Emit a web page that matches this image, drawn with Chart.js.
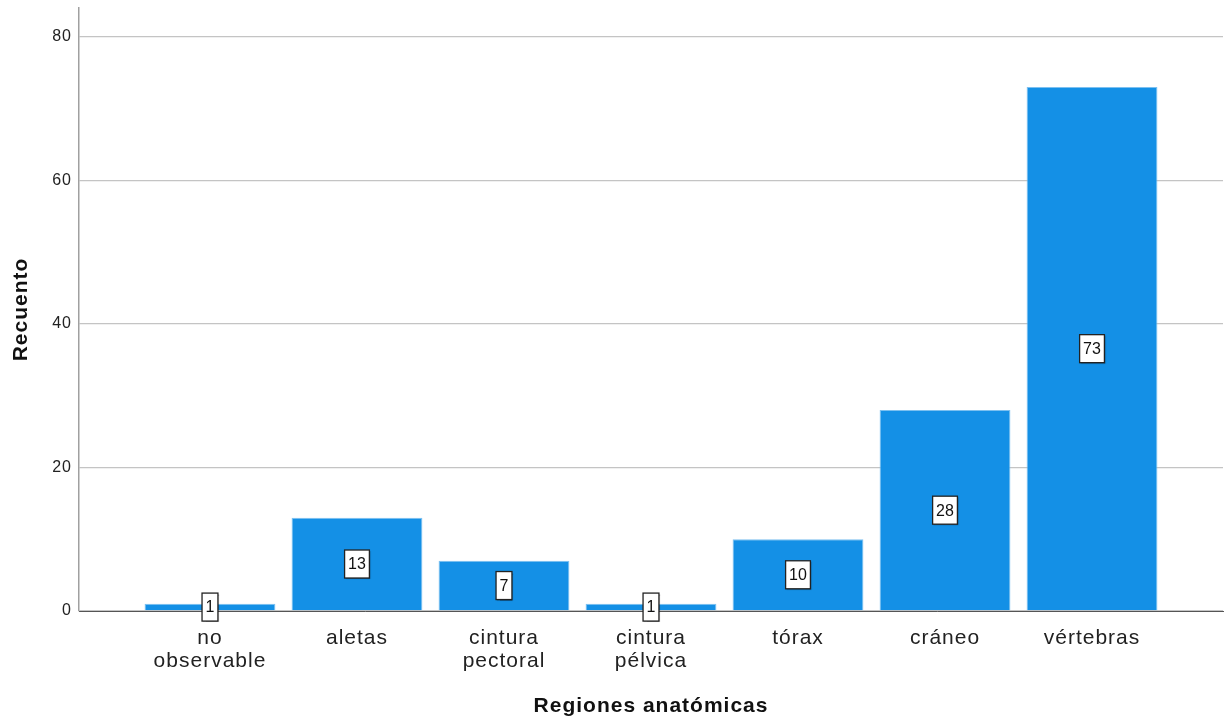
<!DOCTYPE html>
<html>
<head>
<meta charset="utf-8">
<script src="https://cdn.jsdelivr.net/npm/chart.js@4"></script>
<style>
    html, body { margin: 0; padding: 0; background: #fff; }
    #wrap { width: 1224px; height: 719px; }
</style>
</head>
<body>
<div id="wrap"><canvas id="grafica" width="1224" height="719"></canvas></div>
<script>
// Datos del gráfico
const categorias = [['no', 'observable'], 'aletas', ['cintura', 'pectoral'], ['cintura', 'pélvica'], 'tórax', 'cráneo', 'vértebras'];
const recuentos = [1, 13, 7, 1, 10, 28, 73];
const ticksY = [0, 20, 40, 60, 80];

const fuente = "'Liberation Sans', Arial, sans-serif";

// Espaciado de letras parecido al original
const espaciado = {
    id: 'espaciado',
    beforeInit(chart) { chart.ctx.letterSpacing = '1px'; },
    beforeDraw(chart) { chart.ctx.letterSpacing = '1px'; }
};

// Etiquetas blancas con borde en el centro de cada barra
const etiquetas = {
    id: 'etiquetas',
    afterDatasetsDraw(chart) {
        const ctx = chart.ctx;
        const meta = chart.getDatasetMeta(0);
        ctx.save();
        ctx.letterSpacing = '0px';
        ctx.font = '16px ' + fuente;
        ctx.textAlign = 'center';
        ctx.textBaseline = 'middle';
        meta.data.forEach((bar, i) => {
            const texto = String(recuentos[i]);
            const w = ctx.measureText(texto).width + 7;
            const h = 28;
            const cx = bar.x;
            const cy = (bar.y + bar.base) / 2;
            ctx.shadowColor = 'rgba(0,0,0,0.35)';
            ctx.shadowOffsetX = 1;
            ctx.shadowOffsetY = 1;
            ctx.shadowBlur = 1;
            ctx.fillStyle = '#fff';
            ctx.fillRect(cx - w / 2, cy - h / 2, w, h);
            ctx.shadowColor = 'transparent';
            ctx.strokeStyle = '#222';
            ctx.lineWidth = 1.3;
            ctx.strokeRect(cx - w / 2, cy - h / 2, w, h);
            ctx.fillStyle = '#111';
            ctx.fillText(texto, cx, cy + 1);
        });
        ctx.restore();
    }
};

const ctx = document.getElementById('grafica').getContext('2d');
new Chart(ctx, {
    type: 'bar',
    data: {
        datasets: [{
            data: recuentos.map((v, i) => ({ x: i, y: v })),
            backgroundColor: '#1490e6',
            borderColor: '#7cc0f0',
            borderWidth: 1,
            categoryPercentage: 1,
            barPercentage: 0.89
        }]
    },
    options: {
        responsive: false,
        animation: false,
        layout: { padding: { top: 8, right: 1, bottom: 0, left: 0 } },
        plugins: {
            legend: { display: false },
            tooltip: { enabled: false }
        },
        scales: {
            x: {
                type: 'linear',
                offset: false,
                min: -0.891,
                max: 6.891,
                afterBuildTicks: (scale) => {
                    scale.ticks = categorias.map((c, i) => ({ value: i }));
                },
                afterFit: (scale) => {
                    scale.height = 108;
                    scale.paddingLeft = 0;
                    scale.paddingRight = 0;
                },
                grid: { display: false, drawTicks: false },
                border: { display: true, color: '#555', width: 1 },
                ticks: {
                    autoSkip: false,
                    maxRotation: 0,
                    padding: 16,
                    color: '#222',
                    font: { family: fuente, size: 21, lineHeight: 1.1 },
                    callback: (v) => categorias[v]
                },
                title: {
                    display: true,
                    text: 'Regiones anatómicas',
                    color: '#111',
                    font: { family: fuente, size: 21, weight: 'bold' },
                    padding: { top: 0, bottom: 0 }
                }
            },
            y: {
                min: 0,
                max: 84,
                afterBuildTicks: (scale) => {
                    scale.ticks = ticksY.map(v => ({ value: v }));
                },
                afterFit: (scale) => {
                    scale.width = 79;
                    scale.paddingTop = 0;
                    scale.paddingBottom = 0;
                },
                grid: { color: '#c4c4c4', lineWidth: 1.3, drawTicks: false },
                border: { display: true, color: '#a0a0a0', width: 1.5 },
                ticks: {
                    padding: 7,
                    color: '#222',
                    font: { family: fuente, size: 16 }
                },
                title: {
                    display: true,
                    text: 'Recuento',
                    color: '#111',
                    font: { family: fuente, size: 21, weight: 'bold' },
                    padding: { top: 9, bottom: 0 }
                }
            }
        }
    },
    plugins: [espaciado, etiquetas]
});
</script>
</body>
</html>
